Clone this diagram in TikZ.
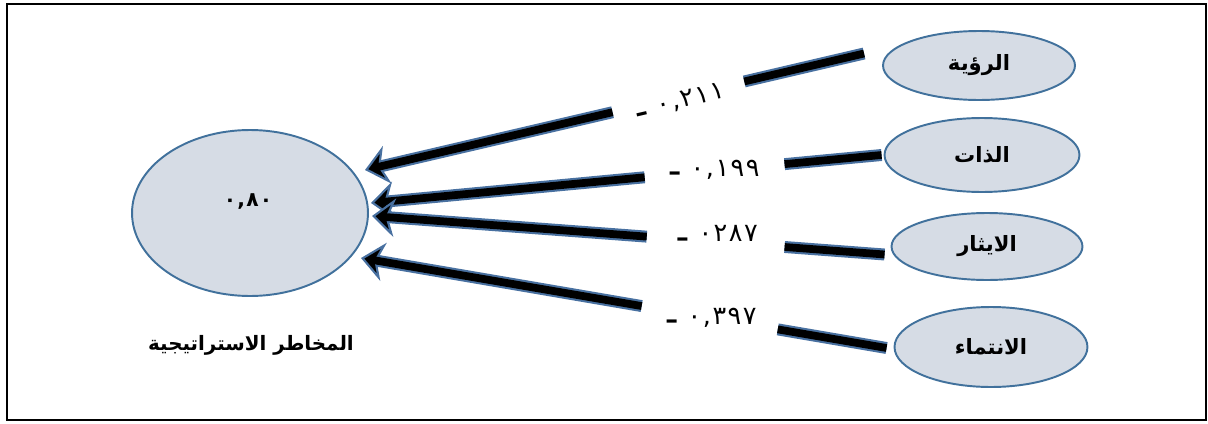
\documentclass[tikz,border=0pt]{standalone}
\usepackage{fontspec}
\usetikzlibrary{arrows.meta,shapes.geometric,calc}
\TeXXeTstate=1
\newfontfamily\arabicfont[Script=Arabic]{DejaVu Sans}
\newfontfamily\digitfont[LetterSpace=6]{DejaVu Sans}

\definecolor{ellfill}{RGB}{214,220,229}
\definecolor{ellline}{RGB}{65,113,156}
\definecolor{edgeblue}{RGB}{72,112,160}

% minus sign before each coefficient, sitting near the baseline
\newcommand\coefminus{\raisebox{-0.3ex}{\bfseries –}}

\tikzset{
  factor/.style={ellipse, draw=ellline, line width=1.1pt, fill=ellfill, inner sep=0pt,
    font=\arabicfont\bfseries\fontsize{12}{14}\selectfont},
  edgeout/.style={line width=6.8pt, draw=edgeblue},
  edgein/.style={line width=4.4pt, draw=black},
  tipped/.style={-{Stealth[length=13pt,width=22pt,inset=4pt,fill=black,line width=1.2pt]}},
  coef/.style={font=\digitfont\fontsize{14.5}{16}\selectfont, inner sep=1pt},
}

\begin{document}
\begin{tikzpicture}[x=0.02cm, y=-0.02cm]
  \useasboundingbox (0,0) rectangle (1208,423);
  % outer frame
  \draw[line width=1.2pt] (7,4) rectangle (1206,420);

  % dependent factor
  \node[factor, minimum width=4.72cm, minimum height=3.32cm] (big) at (250,213) {};
  \node[font=\digitfont\bfseries\fontsize{11.5}{14}\selectfont] (bigval) at (248,202) {٠,٨٠};
  \node[font=\arabicfont\bfseries\fontsize{11.3}{14}\selectfont] (bigname) at (251,345)
    {\beginR المخاطر الاستراتيجية\endR};

  % independent factors
  \node[factor, minimum width=3.84cm, minimum height=1.38cm] (r1) at (979,65.5) {\beginR الرؤية\endR};
  \node[factor, minimum width=3.90cm, minimum height=1.48cm] (r2) at (982,155) {\beginR الذات\endR};
  \node[factor, minimum width=3.82cm, minimum height=1.34cm] (r3) at (987,246.5) {\beginR الايثار\endR};
  \node[factor, minimum width=3.86cm, minimum height=1.60cm] (r4) at (991,347) {\beginR الانتماء\endR};

  % connector end points
  \coordinate (s1) at ($(r1.west)+(-18,-12)$);
  \coordinate (s2) at ($(r2.west)+(-2,0)$);
  \coordinate (s3) at ($(r3.west)+(-6,8)$);
  \coordinate (s4) at ($(r4.west)+(-7,1)$);
  \coordinate (t1) at ($(big.center)+(115,-43)$);
  \coordinate (t2) at ($(big.center)+(121,-10)$);
  \coordinate (t3) at ($(big.center)+(122,3)$);
  \coordinate (t4) at ($(big.center)+(111,45)$);

  % broken connectors: outer piece, gap for the coefficient, arrow piece
  \foreach \s/\t/\a/\b in {s1/t1/0.24/0.504, s2/t2/0.19/0.464, s3/t3/0.195/0.464, s4/t4/0.207/0.466} {
    \draw[edgeout] (\s) -- ($(\s)!\a!(\t)$);
    \draw[edgein]  (\s) -- ($(\s)!\a!(\t)$);
    \draw[edgeout, tipped] ($(\s)!\b!(\t)$) -- (\t);
    \draw[edgein, shorten >=7.5pt] ($(\s)!\b!(\t)$) -- (\t);
  }

  % path coefficients
  \node[coef, rotate=13] (c1) at (680,102) {\coefminus\ ٠,٢١١};
  \node[coef] (c2) at (714,170) {\coefminus\ ٠,١٩٩};
  \node[coef] (c3) at (717,236) {\coefminus\ ٠٢٨٧};
  \node[coef] (c4) at (711,318) {\coefminus\ ٠,٣٩٧};
\end{tikzpicture}
\end{document}
